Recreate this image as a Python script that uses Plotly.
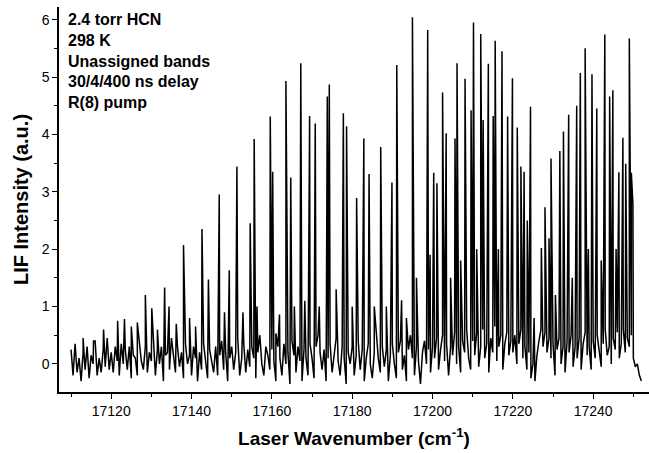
import plotly.graph_objects as go

# Baseline (noise) samples, 0.5 cm-1 spacing starting at 17110.0
base_start = 17110.0
base_step = 0.5
baseline = [
    0.25, -0.2, 0.35, -0.15, 0.1, -0.3, 0.2, -0.1, 0.3, -0.25, 0.15, 0.0, 0.4, -0.2, 0.1, -0.15, 0.25, -0.05, 0.45, -0.1,
    0.2, -0.15, 0.3, 0.05, -0.2, 0.35, 0.0, 0.25, -0.1, 0.3, -0.25, 0.15, 0.1, -0.2, 0.4, 0.05, -0.1, 0.3, -0.15, 0.2,
    0.05, 0.35, -0.2, 0.25, 0.0, 0.3, -0.3, 0.15, 0.2, -0.1, 0.45, 0.1, -0.15, 0.3, -0.05, 0.2, -0.25, 0.35, 0.0, 0.15,
    -0.2, 0.3, 0.1, -0.3, 0.2, -0.1, 0.35, 0.0, -0.25, 0.25, 0.05, -0.15, 0.3, -0.2, 0.15, 0.4, -0.1, 0.2, -0.3, 0.1,
    0.3, -0.1, 0.2, 0.45, -0.2, 0.1, 0.35, -0.15, 0.25, -0.05, 0.3, 0.1, -0.25, 0.2, 0.5, 0.0, -0.2, 0.3, 0.15, -0.1,
    0.25, 0.05, -0.3, 0.3, 0.1, -0.2, 0.35, 0.0, 0.2, -0.35, 0.4, 0.15, -0.15, 0.3, 0.05, -0.3, 0.25, 0.1, -0.2, 0.35,
    0.1, -0.25, 0.3, 0.5, 0.2, -0.1, 0.25, -0.3, 0.1, 0.35, -0.15, 0.2, 0.45, 0.05, -0.2, 0.3, 0.1, -0.35, 0.2, 0.0,
    0.3, -0.2, 0.15, 0.4, -0.1, 0.25, -0.3, 0.1, 0.35, 0.0, -0.25, 0.2, 0.45, 0.1, -0.15, 0.3, -0.05, 0.25, -0.3, 0.15,
    0.35, 0.0, -0.25, 0.2, 0.4, -0.1, 0.15, -0.3, 0.25, 0.5, 0.1, -0.2, 0.3, 0.05, -0.35, 0.2, 0.4, 0.0, 0.25, -0.15,
    0.3, 0.1, 0.45, -0.1, 0.25, 0.5, 0.05, 0.35, -0.2, 0.3, 0.15, 0.55, 0.0, 0.3, -0.15, 0.4, 0.2, 0.6, 0.1, -0.1,
    0.4, 0.15, 0.55, -0.05, 0.3, 0.6, 0.1, 0.35, -0.15, 0.45, 0.2, 0.65, 0.05, 0.3, 0.5, -0.1, 0.35, 0.55, 0.15, 0.4,
    0.2, 0.5, 0.0, 0.35, 0.6, 0.1, 0.3, -0.1, 0.2, -0.25, 0.0, -0.3, 0.15, 0.4, 0.6, 0.3, 0.55, 0.2, 0.45, 0.1,
    0.35, -0.2, 0.25, 0.45, 0.0, 0.3, -0.15, 0.4, 0.2, 0.5, -0.05, 0.3, 0.1, 0.45, -0.1, 0.35, 0.55, 0.15, 0.3, -0.1,
    0.4, 0.1, 0.5, 0.2, -0.05, 0.35, 0.6, 0.15, 0.3, 0.0, 0.45, 0.25, 0.55, 0.1, 0.35, 0.6, 0.2, 0.45, 0.3, 0.5,
    0.1, -0.05, 0.0, -0.2, -0.3,
]

# Line positions (cm-1) and peak intensities (a.u.)
peak_pos = [
    17113.0, 17115.6, 17118.1, 17121.6, 17123.3, 17125.0, 17126.5, 17128.5, 17130.1, 17131.5,
    17133.3, 17134.4, 17136.2, 17138.0, 17139.5, 17141.0, 17142.6, 17144.2, 17146.9, 17148.2,
    17149.4, 17151.3, 17152.8, 17154.6, 17155.6, 17156.3, 17159.6, 17160.2, 17161.0, 17161.9,
    17163.5, 17164.7, 17165.6, 17167.2, 17168.2, 17169.4, 17170.8, 17171.8, 17173.8, 17174.3,
    17176.0, 17177.8, 17178.6, 17180.0, 17181.1, 17182.9, 17184.2, 17185.5, 17187.1, 17188.5,
    17189.9, 17191.1, 17192.3, 17193.5, 17195.0, 17196.0, 17198.8, 17199.4, 17200.3, 17201.1,
    17202.5, 17203.4, 17204.5, 17205.6, 17206.1, 17207.0, 17208.1, 17209.6, 17210.2, 17211.0,
    17212.0, 17212.6, 17213.9, 17215.1, 17215.6, 17216.4, 17217.3, 17218.7, 17219.9, 17221.1,
    17222.0, 17222.8, 17223.6, 17224.4, 17225.3, 17227.1, 17228.0, 17229.0, 17229.5, 17230.6,
    17231.7, 17232.6, 17233.9, 17234.8, 17235.9, 17236.8, 17238.0, 17238.8, 17239.7, 17240.9,
    17242.0, 17242.9, 17244.1, 17244.9, 17245.7, 17246.4, 17247.4, 17248.1, 17249.0, 17249.5,
    17249.9,
]
peak_int = [
    0.45, 0.40, 0.60, 0.75, 0.78, 0.65, 0.72, 1.20, 0.97, 0.60,
    1.33, 1.00, 0.70, 2.07, 0.80, 0.65, 2.35, 1.47, 2.95, 0.90,
    1.63, 3.44, 0.90, 2.45, 3.92, 1.00, 4.31, 3.35, 0.53, 0.86,
    4.93, 3.25, 1.00, 5.24, 1.10, 4.32, 4.19, 1.00, 4.66, 4.87,
    1.30, 4.37, 4.14, 1.00, 2.89, 3.93, 3.31, 1.00, 3.78, 1.00,
    3.16, 5.21, 1.11, 0.80, 6.04, 1.50, 5.82, 1.90, 3.33, 3.15,
    4.73, 4.02, 1.50, 3.93, 5.24, 1.80, 4.97, 4.42, 5.95, 2.00,
    5.75, 4.25, 5.23, 4.32, 5.63, 2.00, 5.45, 4.31, 4.98, 4.12,
    3.44, 3.35, 2.50, 4.48, 0.80, 2.02, 2.73, 2.19, 3.58, 1.20,
    3.71, 4.05, 4.34, 1.50, 4.50, 5.07, 5.50, 2.00, 5.05, 4.45,
    1.80, 5.74, 4.66, 4.77, 2.00, 3.34, 3.94, 3.49, 5.67, 3.33,
    2.78,
]

x_ticks = [17120, 17140, 17160, 17180, 17200, 17220, 17240]
y_ticks = [0, 1, 2, 3, 4, 5, 6]
info_lines = ["2.4 torr HCN", "298 K", "Unassigned bands", "30/4/400 ns delay", "R(8) pump"]

# merge baseline samples and line peaks into one trace ordered by wavenumber
pts = [(base_start + i * base_step, v) for i, v in enumerate(baseline)]
pts += list(zip(peak_pos, peak_int))
pts.sort(key=lambda p: p[0])
xs = [p[0] for p in pts]
ys = [p[1] for p in pts]

FONT = "Liberation Sans, Arial, Helvetica, sans-serif"

fig = go.Figure()
fig.add_trace(go.Scatter(x=xs, y=ys, mode="lines",
                         line=dict(color="black", width=1.5), showlegend=False))

fig.update_layout(
    width=649, height=453,
    margin=dict(l=59, r=0, t=7, b=61),
    paper_bgcolor="white", plot_bgcolor="white",
    font=dict(family=FONT, color="black", size=14),
    xaxis=dict(
        range=[17107, 17253.9], tickvals=x_ticks, ticktext=[str(t) for t in x_ticks],
        showline=True, linecolor="black", linewidth=1.5, showgrid=False, zeroline=False,
        ticks="outside", ticklen=5, tickwidth=1.3, tickcolor="black",
        minor=dict(dtick=10, tick0=17110, ticks="outside", ticklen=3, tickwidth=1.2, tickcolor="black"),
        tickfont=dict(size=14, family=FONT),
        title=dict(text="<b>Laser Wavenumber (cm<sup>-1</sup>)</b>", font=dict(size=19, family=FONT), standoff=14),
    ),
    yaxis=dict(
        range=[-0.49, 6.22], tickvals=y_ticks, ticktext=[str(t) for t in y_ticks],
        showline=True, linecolor="black", linewidth=1.5, showgrid=False, zeroline=False,
        ticks="outside", ticklen=5, tickwidth=1.3, tickcolor="black",
        minor=dict(dtick=0.5, tick0=0, ticks="outside", ticklen=3, tickwidth=1.2, tickcolor="black"),
        tickfont=dict(size=14, family=FONT),
        title=dict(text="<b>LIF Intensity (a.u.)</b>", font=dict(size=20, family=FONT), standoff=8),
    ),
    annotations=[dict(
        xref="paper", yref="paper", x=0.012, y=0.995, xanchor="left", yanchor="top",
        align="left", showarrow=False,
        text="<br>".join(f"<b>{s}</b>" for s in info_lines),
        font=dict(size=16, family=FONT, color="black"),
    )],
)

fig.write_html("out.html")
